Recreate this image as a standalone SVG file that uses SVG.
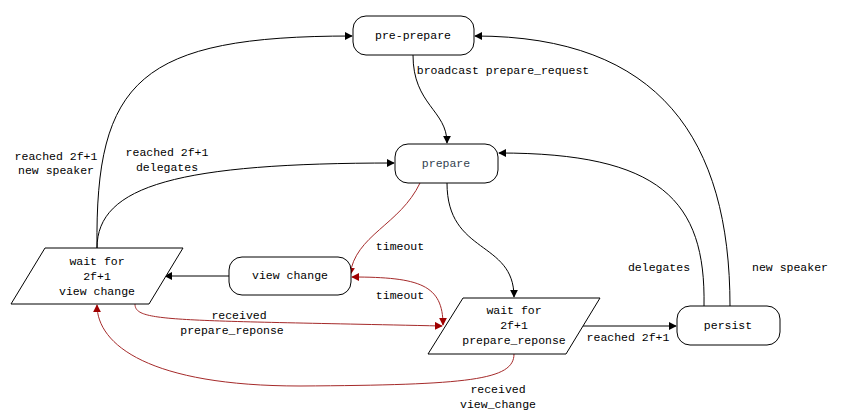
<svg xmlns="http://www.w3.org/2000/svg" width="846" height="415" viewBox="0 0 846 415">
<style>
.n{fill:#fff;stroke:#000;stroke-width:1}
.t{font-family:"Liberation Mono",monospace;font-size:11.5px;fill:#000;text-anchor:middle;dominant-baseline:middle}
.b{fill:none;stroke:#000;stroke-width:1}
.r{fill:none;stroke:#a52a2a;stroke-width:1}
</style>
<defs>
<marker id="ab" viewBox="0 0 10 10" refX="9" refY="5" markerWidth="8" markerHeight="8" orient="auto" markerUnits="userSpaceOnUse"><path d="M0,0 L10,5 L0,10 z" fill="#000"/></marker>
<marker id="ar" viewBox="0 0 10 10" refX="9" refY="5" markerWidth="8" markerHeight="8" orient="auto" markerUnits="userSpaceOnUse"><path d="M0,0 L10,5 L0,10 z" fill="#a00000"/></marker>
<marker id="ars" viewBox="0 0 10 10" refX="1" refY="5" markerWidth="8" markerHeight="8" orient="auto" markerUnits="userSpaceOnUse"><path d="M10,0 L0,5 L10,10 z" fill="#a00000"/></marker>
</defs>
<rect width="846" height="415" fill="#fff"/>
<g id="connectors">
<path class="b" d="M97,248 C95,80 140,36 352,36" marker-end="url(#ab)"/>
<path class="b" d="M97,248 C97,185 180,163 394,163" marker-end="url(#ab)"/>
<path class="b" d="M413,55 C413,105 447,110 447,143" marker-end="url(#ab)"/>
<path class="b" d="M447,183 C447,255 514,240 514,297" marker-end="url(#ab)"/>
<path class="r" d="M420,183 C400,225 355,235 350,275" marker-end="url(#ar)"/>
<path class="r" d="M352,277 C420,277 443,285 443,325" marker-start="url(#ars)" marker-end="url(#ar)"/>
<path class="b" d="M229,276 L165,276" marker-end="url(#ab)"/>
<path class="r" d="M135,304 C135,322 170,320 442,326" marker-end="url(#ar)"/>
<path class="r" d="M514,354 C514,380 470,385 300,386 C150,386 97,345 97,305" marker-end="url(#ar)"/>
<path class="b" d="M583,326 L676,326" marker-end="url(#ab)"/>
<path class="b" d="M704,306 C706,200 660,153 499,153" marker-end="url(#ab)"/>
<path class="b" d="M730,306 C730,140 660,36 475,36" marker-end="url(#ab)"/>
<text class="t" x="503" y="71">broadcast prepare_request</text>
<text class="t" x="56" y="157">reached 2f+1</text>
<text class="t" x="56" y="171">new speaker</text>
<text class="t" x="167" y="153">reached 2f+1</text>
<text class="t" x="167" y="168">delegates</text>
<text class="t" x="400" y="247">timeout</text>
<text class="t" x="400" y="296">timeout</text>
<text class="t" x="239" y="316">received</text>
<text class="t" x="232" y="331">prepare_reponse</text>
<text class="t" x="498" y="390">received</text>
<text class="t" x="498" y="405">view_change</text>
<text class="t" x="628" y="338">reached 2f+1</text>
<text class="t" x="659" y="268">delegates</text>
<text class="t" x="790" y="268">new speaker</text>
</g>
<g id="pre-prepare"><rect class="n" x="353" y="16" width="121" height="39" rx="13"/><text class="t" x="413" y="36">pre-prepare</text></g>
<g id="prepare"><rect class="n" x="395" y="144" width="103" height="39" rx="13"/><text class="t" x="446" y="164" style="fill:#333f4f">prepare</text></g>
<g id="view-change"><rect class="n" x="229" y="257" width="122" height="38" rx="13"/><text class="t" x="290" y="276">view change</text></g>
<g id="persist"><rect class="n" x="677" y="306" width="103" height="39" rx="13"/><text class="t" x="728" y="326">persist</text></g>
<g id="wait-view-change"><polygon class="n" points="45,248 183,248 149,304 11,304"/><text class="t" x="97" y="262">wait for</text><text class="t" x="97" y="277">2f+1</text><text class="t" x="97" y="292">view change</text></g>
<g id="wait-prepare-reponse"><polygon class="n" points="463,298 600,298 566,354 428,354"/><text class="t" x="514" y="311">wait for</text><text class="t" x="514" y="326">2f+1</text><text class="t" x="514" y="341">prepare_reponse</text></g>
</svg>
